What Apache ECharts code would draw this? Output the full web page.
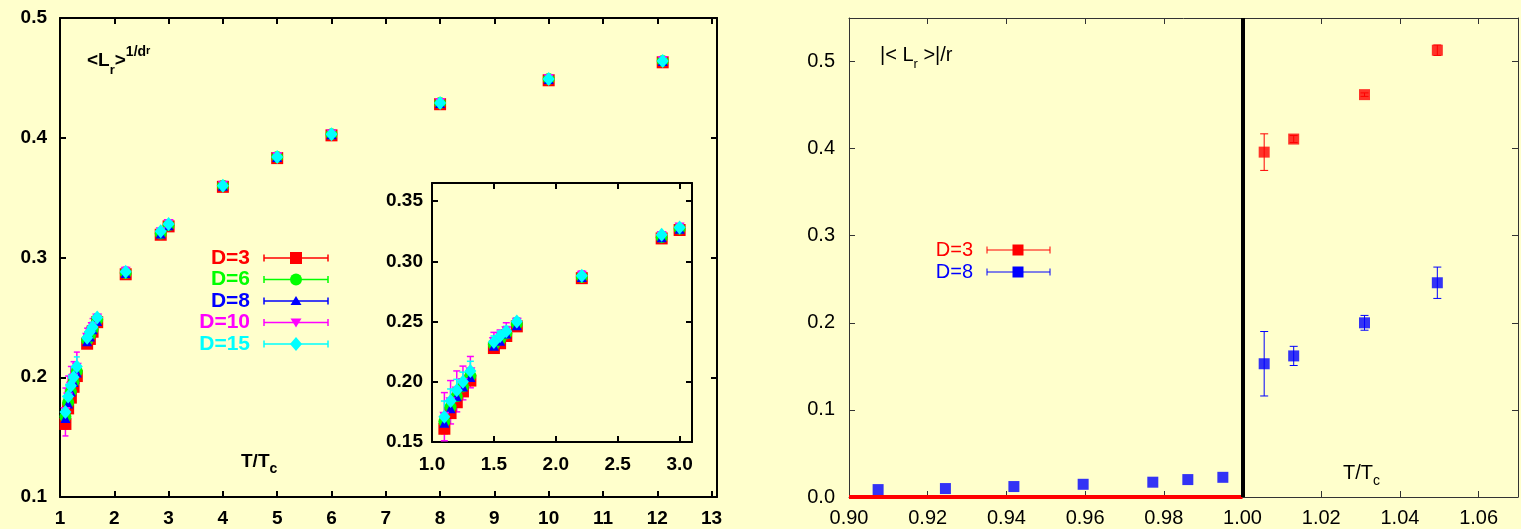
<!DOCTYPE html>
<html><head><meta charset="utf-8">
<script src="https://cdn.jsdelivr.net/npm/echarts@6/dist/echarts.min.js"></script>
<style>html,body{margin:0;padding:0;background:#FFFFCC;}#c{width:1521px;height:529px;}</style>
</head><body><div id="c"></div>
<script>
// ---------- data: left panel (T/Tc, <L_r>^(1/d_r)) ----------
const TL = [1.10, 1.15, 1.20, 1.25, 1.31, 1.50, 1.55, 1.60, 1.685, 2.21, 2.855, 3.0, 4.0, 5.0, 6.0, 8.0, 10.0, 12.1];
const D3  = [0.161,0.174,0.183,0.192,0.201,0.228,0.232,0.238,0.246,0.286,0.319,0.326,0.359,0.383,0.402,0.428,0.448,0.463];
const D6  = [0.167,0.179,0.188,0.196,0.205,0.231,0.235,0.240,0.248,0.287,0.320,0.327,0.360,0.384,0.403,0.429,0.449,0.464];
const D8  = [0.166,0.178,0.188,0.196,0.204,0.230,0.234,0.240,0.247,0.287,0.320,0.327,0.360,0.384,0.403,0.429,0.449,0.464];
const D10 = [0.171,0.183,0.192,0.199,0.208,0.233,0.237,0.242,0.249,0.288,0.321,0.328,0.360,0.384,0.403,0.429,0.449,0.464];
const D15 = [0.171,0.184,0.193,0.200,0.209,0.233,0.238,0.242,0.250,0.288,0.322,0.328,0.360,0.384,0.403,0.429,0.449,0.464];
const E3  = [0.004,0.003,0.003,0.003,0.003,0.002,0.002,0.002,0.002,0.002,0.002,0.002,0.001,0.001,0.001,0.001,0.001,0.001];
const E6  = [0.004,0.003,0.003,0.003,0.003,0.002,0.002,0.002,0.002,0.002,0.002,0.002,0.001,0.001,0.001,0.001,0.001,0.001];
const E8  = [0.005,0.004,0.004,0.004,0.004,0.003,0.003,0.003,0.002,0.002,0.002,0.002,0.001,0.001,0.001,0.001,0.001,0.001];
const E10 = [0.020,0.018,0.017,0.014,0.013,0.008,0.006,0.007,0.004,0.004,0.003,0.003,0.002,0.002,0.002,0.002,0.002,0.002];
const E15 = [0.013,0.010,0.009,0.008,0.008,0.005,0.004,0.004,0.003,0.003,0.002,0.002,0.001,0.001,0.001,0.001,0.001,0.001];
const leftNames = ['D=3','D=6','D=8','D=10','D=15'];

// ---------- data: right panel (T/Tc, |<L_r>|/r) ----------
const TR3 = [1.0055, 1.013, 1.031, 1.0495];
const R3  = [0.396, 0.411, 0.462, 0.513];
const ER3 = [0.021, 0.004, 0.002, 0.006];
const TR8 = [0.9074, 0.9245, 0.9419, 0.9595, 0.9772, 0.9861, 0.9950, 1.0055, 1.013, 1.031, 1.0495];
const R8  = [0.0085, 0.0097, 0.0120, 0.0146, 0.0170, 0.0200, 0.0226, 0.153, 0.162, 0.200, 0.246];
const ER8 = [0, 0, 0, 0, 0, 0, 0, 0.037, 0.011, 0.0085, 0.018];
const TZERO = [0.90, 1.00];   // D=3 below Tc
const RZERO = [0, 0];
const TC = 1.00;
const rightNames = ['D=3','D=8'];

// ---------- styles ----------
const BG = '#FFFFCC';
const COLS = ['#FF0000','#00FF00','#0000FF','#FF00FF','#00FFFF'];
const SYMS = ['rect','circle','triangle','path://M0,0 L10,0 L5,9 Z','diamond'];
const SIZES = [12, 12, 10, 10, [12,14]];
const LF = {fontFamily:'Liberation Sans', fontWeight:'bold', fontSize:19, color:'#000'};
const RF = {fontFamily:'Liberation Sans', fontWeight:'normal', fontSize:20, color:'#000'};

function fmt(interval, dec){
  return v => { const k = v/interval; if (Math.abs(k-Math.round(k))>1e-6) return ''; return v.toFixed(dec); };
}
function ax(gi, min, max, interval, pos, labels, font, lw, col, margin, tl, dec){
  return {type:'value', gridIndex:gi, min, max, interval, position:pos,
    axisLine:{show:true, onZero:false, lineStyle:{color:col, width:lw}},
    axisTick:{show:true, inside:true, length:tl, lineStyle:{color:col, width:lw}},
    axisLabel:Object.assign({show:labels, margin, formatter:fmt(interval,dec)}, font),
    splitLine:{show:false}, minorTick:{show:false}};
}
const xAxes = [
  ax(0, 1, 13.1, 1, 'bottom', true, LF, 2, '#000', 12, 6, 0),
  ax(0, 1, 13.1, 1, 'top', false, LF, 2, '#000', 12, 6, 0),
  ax(1, 1.0, 3.1, 0.5, 'bottom', true, LF, 2, '#000', 13, 6, 1),
  ax(1, 1.0, 3.1, 0.5, 'top', false, LF, 2, '#000', 13, 6, 1),
  ax(2, 0.90, 1.07, 0.02, 'bottom', true, RF, 1, '#333', 11, 6, 2),
  ax(2, 0.90, 1.07, 0.02, 'top', false, RF, 1, '#333', 11, 6, 2)
];
const yAxes = [
  ax(0, 0.1, 0.5, 0.1, 'left', true, LF, 2, '#000', 13, 6, 1),
  ax(0, 0.1, 0.5, 0.1, 'right', false, LF, 2, '#000', 13, 6, 1),
  ax(1, 0.15, 0.365, 0.05, 'left', true, LF, 2, '#000', 9, 6, 2),
  ax(1, 0.15, 0.365, 0.05, 'right', false, LF, 2, '#000', 9, 6, 2),
  ax(2, 0, 0.55, 0.1, 'left', true, RF, 1, '#333', 14, 6, 1),
  ax(2, 0, 0.55, 0.1, 'right', false, RF, 1, '#333', 14, 6, 1)
];

function errSeries(xs, ys, es, color, xi, yi, cap, lw, filt){
  const data = [];
  xs.forEach((x,i)=>{ if (es[i] > 0 && (!filt || filt(x))) data.push([x, ys[i], es[i]]); });
  return {type:'custom', xAxisIndex:xi, yAxisIndex:yi, data, silent:true, z:2,
    renderItem:(params, api)=>{
      const x=api.value(0), y=api.value(1), e=api.value(2);
      const a=api.coord([x,y-e]), b=api.coord([x,y+e]);
      const st={stroke:color, lineWidth:lw};
      return {type:'group', children:[
        {type:'line', shape:{x1:a[0],y1:a[1],x2:b[0],y2:b[1]}, style:st},
        {type:'line', shape:{x1:a[0]-cap,y1:a[1],x2:a[0]+cap,y2:a[1]}, style:st},
        {type:'line', shape:{x1:b[0]-cap,y1:b[1],x2:b[0]+cap,y2:b[1]}, style:st}
      ]};
    }};
}
function scat(xs, ys, i, xi, yi, filt){
  const data=[]; xs.forEach((x,k)=>{ if(!filt||filt(x)) data.push([x,ys[k]]); });
  return {type:'scatter', name:leftNames[i], xAxisIndex:xi, yAxisIndex:yi, data, symbol:SYMS[i], symbolSize:SIZES[i],
    itemStyle:{color:COLS[i], opacity:1}, z:2, silent:true, animation:false};
}
const LV = [D3,D6,D8,D10,D15], LE = [E3,E6,E8,E10,E15];
const series = [];
const inInset = x => x <= 3.1;
for (let i=0;i<5;i++){
  series.push(errSeries(TL, LV[i], LE[i], COLS[i], 0, 0, 3, 1.5));
  series.push(scat(TL, LV[i], i, 0, 0));
}
for (let i=0;i<5;i++){
  series.push(errSeries(TL, LV[i], LE[i], COLS[i], 2, 2, 3.5, 1.5, inInset));
  series.push(scat(TL, LV[i], i, 2, 2, inInset));
}
// right panel
series.push({type:'line', xAxisIndex:4, yAxisIndex:4, data:TZERO.map((t,i)=>[t,RZERO[i]]), symbol:'none',
  lineStyle:{color:'#FF0000', width:4}, z:3, silent:true,
  markLine:{silent:true, symbol:'none', label:{show:false}, lineStyle:{color:'#000', width:4, type:'solid'}, data:[{xAxis:TC}]}});
series.push(errSeries(TR3, R3, ER3, '#FF0000', 4, 4, 4, 1));
series.push({type:'scatter', xAxisIndex:4, yAxisIndex:4, data:TR3.map((t,i)=>[t,R3[i]]), symbol:'rect', symbolSize:11, itemStyle:{color:'#FF0000'}, z:2, silent:true});
series.push(errSeries(TR8, R8, ER8, '#0000FF', 4, 4, 4, 1));
series.push({type:'scatter', xAxisIndex:4, yAxisIndex:4, data:TR8.map((t,i)=>[t,R8[i]]), symbol:'rect', symbolSize:11, itemStyle:{color:'#0000FF'}, z:2, silent:true});

// ---------- legends and labels (graphic) ----------
const graphic = [];
const rowsL = [258, 279.5, 301, 322.5, 344];
function markerShape(i, cx, cy){
  const c = COLS[i];
  if (i===0) return {type:'rect', shape:{x:cx-6,y:cy-6,width:12,height:12}, style:{fill:c}};
  if (i===1) return {type:'circle', shape:{cx,cy,r:6}, style:{fill:c}};
  if (i===2) return {type:'polygon', shape:{points:[[cx,cy-5],[cx+5.5,cy+4],[cx-5.5,cy+4]]}, style:{fill:c}};
  if (i===3) return {type:'polygon', shape:{points:[[cx-5.5,cy-4],[cx+5.5,cy-4],[cx,cy+5]]}, style:{fill:c}};
  return {type:'polygon', shape:{points:[[cx,cy-7],[cx+6,cy],[cx,cy+7],[cx-6,cy]]}, style:{fill:c}};
}
leftNames.forEach((n,i)=>{
  const y=rowsL[i], c=COLS[i];
  graphic.push({type:'text', x:250, y, style:{text:n, fill:c, font:'bold 21px "Liberation Sans"', align:'right', verticalAlign:'middle'}});
  graphic.push({type:'line', shape:{x1:264,y1:y,x2:328,y2:y}, style:{stroke:c, lineWidth:1.5}});
  graphic.push({type:'line', shape:{x1:264,y1:y-3.5,x2:264,y2:y+3.5}, style:{stroke:c, lineWidth:1.5}});
  graphic.push({type:'line', shape:{x1:328,y1:y-3.5,x2:328,y2:y+3.5}, style:{stroke:c, lineWidth:1.5}});
  graphic.push(markerShape(i, 296, y));
});
const rowsR = [250, 272];
const colsR = ['#FF0000','#0000FF'];
rightNames.forEach((n,i)=>{
  const y=rowsR[i], c=colsR[i];
  graphic.push({type:'text', x:973, y, style:{text:n, fill:c, font:'20px "Liberation Sans"', align:'right', verticalAlign:'middle'}});
  graphic.push({type:'line', shape:{x1:987,y1:y,x2:1050,y2:y}, style:{stroke:c, lineWidth:1}});
  graphic.push({type:'line', shape:{x1:987,y1:y-3.5,x2:987,y2:y+3.5}, style:{stroke:c, lineWidth:1}});
  graphic.push({type:'line', shape:{x1:1050,y1:y-3.5,x2:1050,y2:y+3.5}, style:{stroke:c, lineWidth:1}});
  graphic.push({type:'rect', shape:{x:1018-5.5,y:y-5.5,width:11,height:11}, style:{fill:c}});
});
const LFt = 'Liberation Sans';
graphic.push({type:'text', left:87, top:45, style:{text:'{m|<L}{sub|r}{m|>}{sup|1/d}{ss|r}', rich:{
  m:{fontFamily:LFt, fontWeight:'bold', fontSize:19, lineHeight:32, fill:'#000'},
  sub:{fontFamily:LFt, fontWeight:'bold', fontSize:13, lineHeight:18, verticalAlign:'bottom', fill:'#000'},
  sup:{fontFamily:LFt, fontWeight:'bold', fontSize:14, lineHeight:14, verticalAlign:'top', fill:'#000'},
  ss:{fontFamily:LFt, fontWeight:'bold', fontSize:11, lineHeight:30, verticalAlign:'top', fill:'#000'}}}});
graphic.push({type:'text', left:241, top:452, style:{text:'{m|T/T}{sub|c}', rich:{
  m:{fontFamily:LFt, fontWeight:'bold', fontSize:19, lineHeight:30, fill:'#000'},
  sub:{fontFamily:LFt, fontWeight:'bold', fontSize:14, lineHeight:18, verticalAlign:'bottom', fill:'#000'}}}});
graphic.push({type:'text', left:880, top:45, style:{text:'{m||< L}{sub|r}{m| >|/r}', rich:{
  m:{fontFamily:LFt, fontSize:20, lineHeight:32, fill:'#000'},
  sub:{fontFamily:LFt, fontSize:13, lineHeight:20, verticalAlign:'bottom', fill:'#000'}}}});
graphic.push({type:'text', left:1343, top:463, style:{text:'{m|T/T}{sub|c}', rich:{
  m:{fontFamily:LFt, fontSize:20, lineHeight:30, fill:'#000'},
  sub:{fontFamily:LFt, fontSize:14, lineHeight:16, verticalAlign:'bottom', fill:'#000'}}}});

const chart = echarts.init(document.getElementById('c'), null, {renderer:'canvas'});
chart.setOption({
  backgroundColor: BG,
  animation:false,
  grid:[
    {left:60, top:18, width:657, height:479, show:false},
    {left:432, top:183, width:260, height:259, show:true, backgroundColor:BG, borderWidth:0},
    {left:849, top:18, width:671, height:479, show:false}
  ],
  xAxis:xAxes, yAxis:yAxes, series, graphic
});
</script></body></html>
